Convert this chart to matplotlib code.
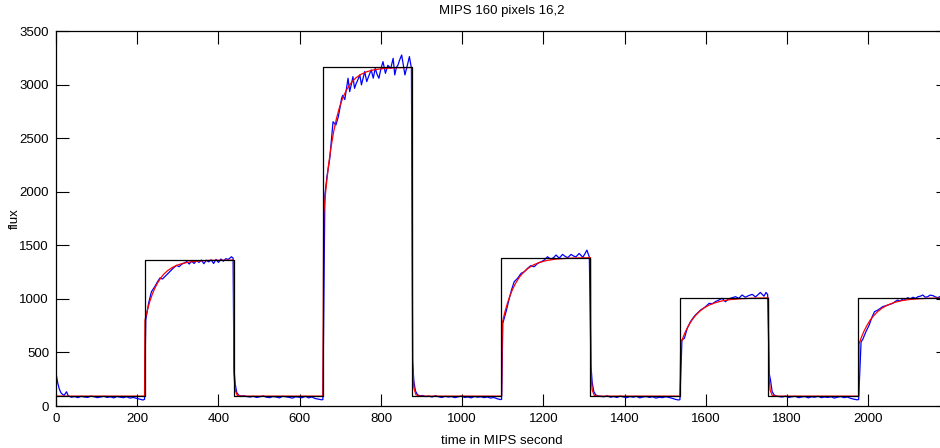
import matplotlib
matplotlib.use('Agg')
import matplotlib.pyplot as plt

plt.rcParams['font.family'] = ['Liberation Sans', 'DejaVu Sans']

# black model step: edges and levels
step_edges = [0, 218, 437, 657, 876, 1096, 1315, 1535, 1754, 1974, 2200]
step_levels = [92, 1362, 92, 3160, 92, 1385, 92, 1010, 92, 1010, 1010]

# blue measured flux
blue_t = [0, 4, 8, 12, 16, 20, 26, 30, 38, 46, 54, 62, 70, 78, 86, 94, 102, 110, 118, 126,
          134, 142, 150, 158, 166, 174, 182, 190, 198, 206, 214, 218,
          221, 228, 235, 243, 250, 256, 262, 268, 274, 280, 289, 297, 303, 309, 316, 322,
          328, 334, 340, 346, 352, 358, 364, 370, 376, 382, 388, 394, 400, 406, 412, 418,
          424, 432, 436,
          438, 441, 445, 450, 456, 462, 470, 478, 486, 494, 502, 510, 518, 526, 534, 542,
          550, 558, 566, 574, 582, 590, 598, 606, 614, 622, 630, 638, 646, 654, 657,
          662, 667, 674, 678, 682, 689, 695, 699, 703, 706, 711, 719, 723, 727, 731, 735,
          739, 743, 748, 752, 756, 760, 765, 770, 776, 781, 786, 790, 795, 800, 805, 811,
          817, 824, 830, 834, 838, 842, 846, 851, 855, 859, 865, 870, 875,
          878, 881, 885, 890, 896, 902, 910, 918, 926, 934, 942, 950, 958, 966, 974, 982,
          990, 998, 1006, 1014, 1022, 1030, 1038, 1046, 1054, 1062, 1070, 1078, 1086, 1094, 1097,
          1100, 1108, 1116, 1122, 1128, 1136, 1145, 1153, 1161, 1169, 1177, 1186, 1194, 1202,
          1210, 1218, 1225, 1231, 1239, 1247, 1254, 1260, 1268, 1274, 1280, 1288, 1297, 1302,
          1307, 1313,
          1317, 1320, 1324, 1329, 1335, 1341, 1349, 1357, 1365, 1373, 1381, 1389, 1397, 1405,
          1413, 1421, 1429, 1437, 1445, 1453, 1461, 1469, 1477, 1485, 1493, 1501, 1509, 1517,
          1525, 1533, 1536,
          1541, 1547, 1554, 1562, 1568, 1574, 1580, 1587, 1593, 1599, 1608, 1616, 1624, 1632,
          1640, 1648, 1656, 1664, 1673, 1681, 1689, 1697, 1705, 1714, 1722, 1730, 1734, 1743,
          1748, 1752,
          1756, 1759, 1763, 1768, 1774, 1780, 1788, 1796, 1804, 1812, 1820, 1828, 1836, 1844,
          1852, 1860, 1868, 1876, 1884, 1892, 1900, 1908, 1916, 1924, 1932, 1940, 1948, 1956,
          1964, 1972, 1976,
          1982, 1986, 1994, 2002, 2009, 2015, 2023, 2029, 2035, 2042, 2048, 2054, 2060, 2066,
          2072, 2078, 2085, 2091, 2097, 2103, 2110, 2116, 2122, 2128, 2134, 2140, 2146, 2152,
          2159, 2165, 2171, 2178, 2185, 2192]
blue_v = [308, 220, 160, 125, 108, 100, 133, 95, 82, 88, 78, 90, 84, 80, 92, 86, 78, 84, 90, 80,
          86, 76, 88, 82, 78, 86, 74, 80, 72, 64, 56, 62,
          803, 960, 1067, 1113, 1160, 1195, 1185, 1207, 1230, 1253, 1288, 1313, 1300, 1322, 1335, 1348,
          1325, 1352, 1330, 1358, 1340, 1362, 1328, 1360, 1345, 1365, 1330, 1368, 1340, 1372, 1352, 1375,
          1368, 1393, 1380,
          360, 210, 125, 100, 92, 96, 88, 84, 90, 80, 86, 94, 82, 78, 88, 84,
          76, 90, 86, 80, 74, 86, 82, 78, 90, 76, 84, 70, 64, 58, 60,
          1970, 2140, 2311, 2480, 2653, 2622, 2700, 2780, 2871, 2900, 2860, 3059, 2934, 3000, 3074, 2965,
          3010, 3043, 3090, 2997, 3060, 3121, 3028, 3080, 3137, 3060, 3152, 3100, 3059, 3150, 3214, 3105,
          3180, 3150, 3245, 3090, 3160, 3183, 3230, 3276, 3180, 3090, 3180, 3261, 3152,
          420, 230, 140, 105, 95, 98, 88, 92, 84, 96, 86, 80, 90, 84, 88, 78,
          86, 92, 80, 84, 76, 88, 82, 86, 78, 84, 74, 80, 68, 60, 62,
          772, 880, 1005, 1090, 1160, 1190, 1238, 1253, 1285, 1310, 1300, 1331, 1345, 1362,
          1393, 1370, 1385, 1409, 1380, 1415, 1395, 1385, 1415, 1400, 1392, 1424, 1388, 1420,
          1455, 1390,
          380, 220, 135, 102, 94, 90, 86, 95, 82, 88, 80, 92, 84, 78,
          88, 82, 90, 76, 84, 88, 80, 86, 74, 82, 78, 86, 80, 72,
          62, 56, 60,
          616, 632, 725, 787, 820, 849, 870, 896, 910, 927, 958, 955, 975, 989,
          1005, 973, 1000, 1010, 1020, 1005, 1036, 1015, 1030, 1042, 1018, 1045, 1060, 1025,
          1060, 1040,
          300, 243, 134, 103, 92, 88, 84, 92, 80, 86, 90, 78, 84, 88,
          76, 86, 82, 90, 78, 84, 80, 86, 74, 82, 88, 78, 84, 72,
          64, 58, 60,
          600, 620, 694, 756, 830, 880, 895, 910, 927, 935, 942, 950, 958, 975,
          989, 980, 1000, 995, 1011, 1000, 1015, 1005, 1020, 1025, 1036, 1015, 1020, 1035,
          1030, 1018, 1011, 1025, 1015, 1022]

# red fitted transient
red_t = [0, 218,
         219, 225, 231, 237, 243, 250, 258, 266, 275, 285, 296, 310, 325, 345, 370, 400, 436,
         437, 438, 441, 446, 455, 657,
         659, 665, 671, 677, 683, 690, 698, 706, 715, 725, 737, 750, 765, 785, 810, 840, 876,
         877, 878, 881, 886, 895, 1097,
         1099, 1105, 1111, 1117, 1124, 1132, 1141, 1151, 1162, 1175, 1190, 1208, 1230, 1260, 1290, 1315,
         1316, 1317, 1320, 1325, 1334, 1536,
         1538, 1544, 1550, 1557, 1565, 1574, 1584, 1595, 1608, 1623, 1640, 1660, 1685, 1715, 1753,
         1754, 1755, 1758, 1763, 1772, 1976,
         1977, 1983, 1989, 1996, 2004, 2013, 2023, 2034, 2047, 2062, 2079, 2099, 2124, 2154, 2195]
red_v = [92, 92,
         800, 896, 976, 1042, 1097, 1148, 1196, 1233, 1264, 1290, 1311, 1329, 1342, 1351, 1358, 1360, 1362,
         1362, 300, 150, 100, 92, 92,
         1800, 2046, 2249, 2413, 2549, 2676, 2789, 2876, 2949, 3009, 3059, 3094, 3120, 3140, 3151, 3157, 3159,
         3159, 400, 170, 105, 92, 92,
         780, 876, 955, 1023, 1089, 1149, 1203, 1248, 1285, 1316, 1340, 1358, 1371, 1379, 1382, 1384,
         1384, 300, 150, 100, 92, 92,
         580, 643, 697, 749, 799, 843, 882, 914, 942, 964, 981, 993, 1001, 1006, 1009,
         1009, 300, 150, 100, 92, 92,
         580, 643, 697, 749, 799, 843, 882, 914, 942, 964, 981, 993, 1001, 1006, 1008]

fig = plt.figure(figsize=(9.4, 4.48), dpi=100)
ax = fig.add_axes([56 / 940, 42 / 448, 892 / 940, 375 / 448])

ax.plot(blue_t, blue_v, color='blue', lw=0.9)
ax.plot(red_t, red_v, color='red', lw=0.9)
ax.step(step_edges, step_levels, where='post', color='black', lw=0.9)

ax.set_xlim(0, 2196)
ax.set_ylim(0, 3500)
ax.set_xticks(range(0, 2001, 200))
ax.set_yticks(range(0, 3501, 500))
ax.tick_params(direction='in', length=9, width=0.8, top=True, right=True,
               labelsize=9.5, pad=5)
for s in ax.spines.values():
    s.set_linewidth(0.9)

ax.set_title('MIPS 160 pixels 16,2', fontsize=9.5, pad=12)
ax.set_xlabel('time in MIPS second', fontsize=9.5, labelpad=7)
ax.set_ylabel('flux', fontsize=9.5, labelpad=-1)

fig.savefig('out.png', dpi=100)
